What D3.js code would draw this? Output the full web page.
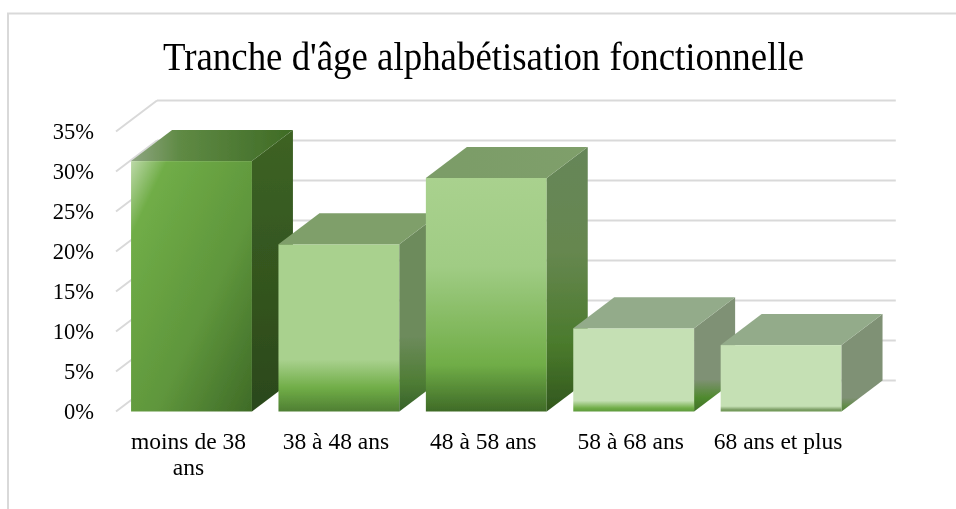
<!DOCTYPE html>
<html lang="fr">
<head>
<meta charset="utf-8">
<title>Tranche d'âge alphabétisation fonctionnelle</title>
<script src="https://cdn.jsdelivr.net/npm/d3@7"></script>
<style>
  html, body { margin: 0; padding: 0; background: #fff; }
  svg { display: block; }
  text { font-family: "Liberation Serif", serif; fill: #000; }
  .axis text { font-size: 22.5px; }
  .axis.cats text { font-size: 23.5px; }
  .grid line { stroke: #d9d9d9; stroke-width: 2px; }
</style>
</head>
<body>
<div id="chart"></div>
<script>
const titleText = "Tranche d'âge alphabétisation fonctionnelle";
const categories = ["moins de 38 ans", "38 à 48 ans", "48 à 58 ans", "58 à 68 ans", "68 ans et plus"];
const values = [31.3, 20.9, 29.2, 10.4, 8.3];
const yTicks = [0, 5, 10, 15, 20, 25, 30, 35];

// couleurs des faces, une entree par barre
const frontStops = [
  [[0, "#bcd9a8"], [0.15, "#70ad47"], [0.6, "#5f963c"], [1, "#3f6b27"]],
  [[0, "#a9d18e"], [0.69, "#a9d18e"], [0.86, "#70ad47"], [1, "#4f7f33"]],
  [[0, "#a9d18e"], [0.38, "#a0cc84"], [0.8, "#70ad47"], [1, "#3f6b27"]],
  [[0, "#c5e0b4"], [0.87, "#c5e0b4"], [0.96, "#70ad47"], [1, "#5f9a3c"]],
  [[0, "#c5e0b4"], [0.92, "#c5e0b4"], [0.97, "#7fa068"], [1, "#6b9650"]],
];
const topColors = [
  [[0, "#8fa682"], [0.3, "#5f8a44"], [1, "#3f6b25"]],
  [[0, "#7f9f6b"], [1, "#7f9f6b"]],
  [[0, "#7b9c67"], [1, "#7f9f6b"]],
  [[0, "#93ab8a"], [1, "#93ab8a"]],
  [[0, "#93ab8a"], [1, "#93ab8a"]],
];
const sideStops = [
  [[0, "#3d6324"], [1, "#2b481a"]],
  [[0, "#6d8b5c"], [0.62, "#6d8b5c"], [0.85, "#4f7d35"], [1, "#37612a"]],
  [[0, "#668659"], [0.4, "#66874f"], [0.75, "#4a7a2c"], [1, "#31561d"]],
  [[0, "#7f9174"], [0.72, "#7f9174"], [0.88, "#4f8a2e"], [1, "#3f6f28"]],
  [[0, "#7f9174"], [0.86, "#7f9174"], [0.95, "#5f8a45"], [1, "#54803b"]],
];

const width = 956;
const height = 509;
const depthX = 41;
const depthY = 31;

const svg = d3.select("#chart").append("svg")
  .attr("width", width)
  .attr("height", height);

const defs = svg.append("defs");

function addGradient(id, stops, diagonal) {
  const g = defs.append("linearGradient")
    .attr("id", id)
    .attr("x1", 0).attr("y1", 0)
    .attr("x2", diagonal ? 1 : 0).attr("y2", 1);
  stops.forEach(function (s) {
    g.append("stop").attr("offset", s[0]).attr("stop-color", s[1]);
  });
}

frontStops.forEach(function (s, i) { addGradient("front" + i, s, i == 0); });
sideStops.forEach(function (s, i) { addGradient("side" + i, s, false); });
topColors.forEach(function (s, i) {
  addGradient("top" + i, s, false);
  defs.select("#top" + i).attr("x2", 1).attr("y2", 0);
});

defs.append("filter").attr("id", "soft")
  .append("feGaussianBlur").attr("stdDeviation", 0.4);

// cadre, seulement a gauche et en haut comme sur l'image
svg.append("path")
  .attr("d", d3.line()([[width, 13.5], [8, 13.5], [8, height]]))
  .attr("fill", "none")
  .attr("stroke", "#d9d9d9")
  .attr("stroke-width", 2);

const chart = svg.append("g").attr("filter", "url(#soft)");

chart.append("text")
  .attr("x", 483.5)
  .attr("y", 70)
  .attr("text-anchor", "middle")
  .attr("textLength", 641)
  .attr("lengthAdjust", "spacingAndGlyphs")
  .style("font-size", "39px")
  .text(titleText);

const x = d3.scaleBand()
  .domain(categories)
  .range([117.8, 854.8])
  .paddingInner(0.18)
  .paddingOuter(0.09);

const y = d3.scaleLinear()
  .domain([0, 35])
  .range([411.5, 131.5]);

const xLeft = 116;
const xRight = x.range()[1] + depthX;

// lignes de la grille: mur du fond et paroi gauche
const grid = chart.append("g").attr("class", "grid");
grid.selectAll(".back")
  .data(yTicks)
  .join("line")
  .attr("class", "back")
  .attr("x1", xLeft + depthX)
  .attr("x2", xRight)
  .attr("y1", function (d) { return y(d) - depthY; })
  .attr("y2", function (d) { return y(d) - depthY; });
grid.selectAll(".side")
  .data(yTicks)
  .join("line")
  .attr("class", "side")
  .attr("x1", xLeft)
  .attr("x2", xLeft + depthX)
  .attr("y1", function (d) { return y(d); })
  .attr("y2", function (d) { return y(d) - depthY; });

const bars = chart.selectAll(".bar")
  .data(values)
  .join("g")
  .attr("class", "bar");

bars.append("rect")
  .attr("x", function (d, i) { return x(categories[i]); })
  .attr("y", function (d) { return y(d); })
  .attr("width", x.bandwidth())
  .attr("height", function (d) { return y(0) - y(d); })
  .attr("fill", function (d, i) { return "url(#front" + i + ")"; });

bars.append("path")
  .attr("d", function (d, i) {
    const x1 = x(categories[i]) + x.bandwidth();
    return d3.line()([
      [x1, y(d)],
      [x1 + depthX, y(d) - depthY],
      [x1 + depthX, y(0) - depthY],
      [x1, y(0)],
    ]) + "Z";
  })
  .attr("fill", function (d, i) { return "url(#side" + i + ")"; });

bars.append("path")
  .attr("d", function (d, i) {
    const x0 = x(categories[i]);
    const x1 = x0 + x.bandwidth();
    return d3.line()([
      [x0, y(d)],
      [x0 + depthX, y(d) - depthY],
      [x1 + depthX, y(d) - depthY],
      [x1, y(d)],
    ]) + "Z";
  })
  .attr("fill", function (d, i) { return "url(#top" + i + ")"; });

chart.append("g")
  .attr("class", "axis")
  .attr("transform", "translate(" + xLeft + ",0)")
  .call(d3.axisLeft(y)
    .tickValues(yTicks)
    .tickFormat(function (d) { return d + "%"; })
    .tickSize(0)
    .tickPadding(22))
  .call(function (g) { g.select(".domain").remove(); })
  .selectAll("text")
  .attr("dy", "0.33em");

const xAxis = chart.append("g")
  .attr("class", "axis cats")
  .attr("transform", "translate(-3," + y(0) + ")")
  .call(d3.axisBottom(x).tickSize(0).tickPadding(0))
  .call(function (g) { g.select(".domain").remove(); });

// retour a la ligne des etiquettes trop longues pour un pas de l'echelle
xAxis.selectAll("text").each(function () {
  const label = d3.select(this);
  const words = label.text().split(" ");
  label.text(null).attr("y", 0).attr("dy", null);
  let tspan = label.append("tspan").attr("x", 0).attr("y", 37.5);
  let line = [];
  let lineNo = 0;
  words.forEach(function (w) {
    line.push(w);
    tspan.text(line.join(" "));
    if (tspan.node().getComputedTextLength() > x.step() && line.length > 1) {
      line.pop();
      tspan.text(line.join(" "));
      line = [w];
      lineNo++;
      tspan = label.append("tspan").attr("x", 0).attr("y", 37.5 + lineNo * 26).text(w);
    }
  });
});
</script>
</body>
</html>
